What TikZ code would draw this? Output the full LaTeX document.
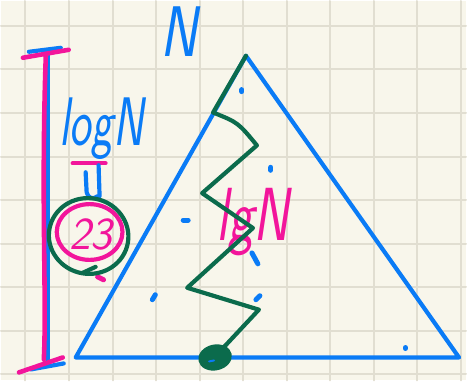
\documentclass[tikz,border=0pt]{standalone}
\usepackage{tikz}
\usetikzlibrary{calc}
\definecolor{paper}{HTML}{F8F6EB}
\definecolor{rule}{HTML}{E1DED1}
\definecolor{pblue}{HTML}{0A7BF6}
\definecolor{ppink}{HTML}{F2159B}
\definecolor{pgreen}{HTML}{0B6B4C}
\tikzset{pen/.style={line cap=round, line join=round, line width=4.2pt},
  scrawl/.style={inner sep=0pt, font=\sffamily\itshape}}

\begin{document}
\begin{tikzpicture}[x=1pt, y=-1pt, pen]
  \fill[paper] (0,0) rectangle (467,381);
  \foreach \gx in {0,...,10}{\draw[rule, line width=2pt] (24.5+43.75*\gx,0) -- (24.5+43.75*\gx,381);}
  \foreach \gy in {0,...,8}{\draw[rule, line width=2pt] (0,25+43.75*\gy) -- (467,25+43.75*\gy);}
  % height bar
  \draw[pblue] (28,51) -- (60,47) (47,50) -- (47,365) (30,370) -- (63,364);
  \draw[ppink, line width=4.6pt] (22,57) -- (68,49) (45,55) .. controls (40,200) and (46,300) .. (43,360) (18,373) -- (62,358);
  % triangle
  \coordinate (apex) at (246,55);
  \coordinate (bl) at (75,358);
  \coordinate (br) at (460,358);
  \draw[pblue] (apex) -- (br) -- (bl) -- cycle;
  \foreach \p/\q in {{242,89}/{242,91},{271,167}/{271,170},{183,220}/{188,220},{152,300}/{155,295},{252,253}/{258,264},{256,300}/{260,296},{406,348}/{406,349}}
     {\draw[pblue, line width=5pt] (\p) -- (\q);}
  % labels
  \node[scrawl, pblue, font=\fontsize{72}{72}\sffamily\itshape, xscale=0.78] (topN) at (179,31) {N};
  \node[scrawl, pblue, font=\fontsize{46}{46}\sffamily\itshape, yscale=1.5] (logN) at (101,128) {logN};
  \draw[ppink] (72,163) -- (105,163);
  \draw[pblue] (85,172) -- (86,192) .. controls (87,198) and (93,200) .. (97,196) (98,165) -- (99,196);
  \draw[ppink] (89,232) ellipse (33 and 28);
  \node[scrawl, ppink, font=\fontsize{46}{46}\sffamily\itshape] (pow) at (90,234) {23};
  \draw[ppink, line width=5pt] (97,277) -- (103,280);
  \draw[pgreen, rotate around={-10:(88,236)}] (88,236) ellipse (40 and 38);
  \draw[pgreen] (82,273) -- (95,267);
  \node[scrawl, ppink, font=\fontsize{54}{54}\sffamily\itshape, yscale=1.4] (lgN) at (253,222) {lgN};
  % recursion path
  \draw[pgreen] (apex) -- (213,112) .. controls (238,122) .. (257,145) -- (202,193) -- (253,228) -- (187,288) -- (259,310) -- (216,356);
  \fill[pgreen, rotate around={12:(215,358)}] (215,358) ellipse (17 and 13);
  \draw[pblue, line width=2pt] (209,362) -- (214,361);
\end{tikzpicture}
\end{document}
